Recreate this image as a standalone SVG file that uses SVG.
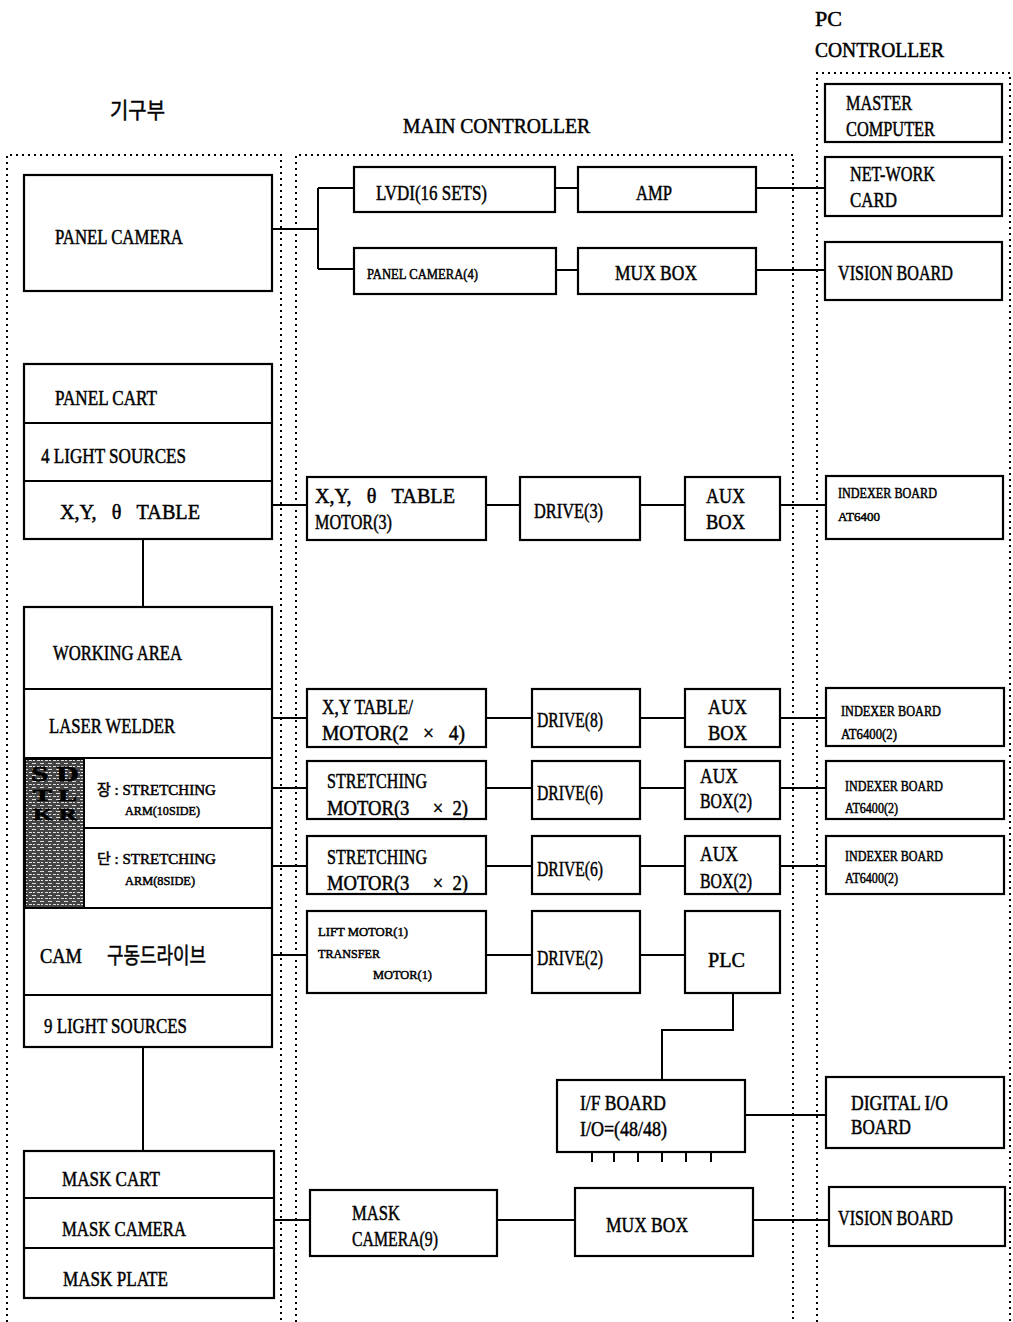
<svg xmlns="http://www.w3.org/2000/svg" width="1013" height="1322" viewBox="0 0 1013 1322">
<style>
.bx{fill:#fff;stroke:#000;stroke-width:2.2}
.grp{fill:none;stroke:#000;stroke-width:2;stroke-dasharray:2 4}
.ln{fill:none;stroke:#000;stroke-width:2}
text{font-family:"Liberation Serif","Noto Sans CJK KR",serif;fill:#000;stroke:#000;stroke-width:0.5}
.t20{font-size:22px}
.t15{font-size:15px}
.t13{font-size:13px}
.kr{font-family:"Noto Sans CJK KR",sans-serif}
</style>
<defs>
<pattern id="hatch" width="8" height="6" patternUnits="userSpaceOnUse">
<rect width="8" height="6" fill="#444"/>
<path d="M0 1.5h4M5 4.5h3M1 4.5h2" stroke="#ddd" stroke-width="1"/>
</pattern>
</defs>
<rect width="1013" height="1322" fill="#fff"/>

<g id="groups">
<path class="grp" d="M7 1322V155H281V1322"/>
<path class="grp" d="M296 1322V155H793V1322"/>
<path class="grp" d="M817 1322V73H1010V1322"/>
</g>

<g id="headers">
<text class="t20 kr" x="110" y="118" textLength="55" lengthAdjust="spacingAndGlyphs">기구부</text>
<text class="t20" x="403" y="133" textLength="187" lengthAdjust="spacingAndGlyphs">MAIN CONTROLLER</text>
<text class="t20" x="815" y="26" textLength="27" lengthAdjust="spacingAndGlyphs">PC</text>
<text class="t20" x="815" y="57" textLength="129" lengthAdjust="spacingAndGlyphs">CONTROLLER</text>
</g>

<g id="connectors">
<path class="ln" d="M272 229H318M318 188V269M318 188H354M318 269H354"/>
<path class="ln" d="M555 188H578M556 270H578M756 188H825M756 270H825"/>
<path class="ln" d="M143 539V607M143 1047V1151"/>
<path class="ln" d="M272 505H307M486 505H520M640 505H685M780 505H826"/>
<path class="ln" d="M272 718H307M486 718H532M640 718H685M780 718H826"/>
<path class="ln" d="M272 788H307M486 788H532M640 788H685M780 788H826"/>
<path class="ln" d="M272 866H307M486 866H532M640 866H685M780 866H826"/>
<path class="ln" d="M272 955H307M486 955H532M640 955H685"/>
<path class="ln" d="M733 993V1030H662V1080"/>
<path class="ln" d="M745 1115H826"/>
<path class="ln" d="M592 1152V1162M614 1152V1162M638 1152V1162M662 1152V1162M686 1152V1162M711 1152V1162"/>
<path class="ln" d="M274 1220H310M497 1220H575M753 1220H829"/>
</g>

<g id="panel-camera">
<rect class="bx" x="24" y="175" width="248" height="116"/>
<text class="t20" x="55" y="244" textLength="128" lengthAdjust="spacingAndGlyphs">PANEL CAMERA</text>
</g>
<g id="panel-stack">
<rect class="bx" x="24" y="364" width="248" height="175"/>
<path class="ln" d="M24 423H272M24 481H272"/>
<text class="t20" x="55" y="405" textLength="102" lengthAdjust="spacingAndGlyphs">PANEL CART</text>
<text class="t20" x="41" y="463" textLength="145" lengthAdjust="spacingAndGlyphs">4 LIGHT SOURCES</text>
<text class="t20" xml:space="preserve" x="60" y="519" textLength="140" lengthAdjust="spacingAndGlyphs">X,Y,   θ   TABLE</text>
</g>
<g id="working-stack">
<rect class="bx" x="24" y="607" width="248" height="440"/>
<path class="ln" d="M24 689H272M24 758H272M84 828H272M24 908H272M24 995H272"/>
<rect x="25" y="759" width="59" height="149" fill="url(#hatch)" stroke="#000" stroke-width="2"/>
<text x="31" y="781" style="font-size:20px;font-weight:bold" textLength="48" lengthAdjust="spacingAndGlyphs">S D</text>
<text x="33" y="801" style="font-size:16px;font-weight:bold" textLength="44" lengthAdjust="spacingAndGlyphs">T L</text>
<text x="33" y="820" style="font-size:16px;font-weight:bold" textLength="44" lengthAdjust="spacingAndGlyphs">K R</text>
<text class="t20" x="53" y="660" textLength="129" lengthAdjust="spacingAndGlyphs">WORKING AREA</text>
<text class="t20" x="49" y="733" textLength="126" lengthAdjust="spacingAndGlyphs">LASER WELDER</text>
<text class="t15" x="97" y="795"><tspan class="kr">장</tspan> : <tspan>STRETCHING</tspan></text>
<text class="t13" x="125" y="815" textLength="75" lengthAdjust="spacingAndGlyphs">ARM(10SIDE)</text>
<text class="t15" x="97" y="864"><tspan class="kr">단</tspan> : <tspan>STRETCHING</tspan></text>
<text class="t13" x="125" y="885" textLength="70" lengthAdjust="spacingAndGlyphs">ARM(8SIDE)</text>
<text class="t20" x="40" y="963" textLength="42" lengthAdjust="spacingAndGlyphs">CAM</text>
<text class="t20 kr" x="107" y="963" textLength="99" lengthAdjust="spacingAndGlyphs">구동드라이브</text>
<text class="t20" x="44" y="1033" textLength="143" lengthAdjust="spacingAndGlyphs">9 LIGHT SOURCES</text>
</g>
<g id="mask-stack">
<rect class="bx" x="24" y="1151" width="250" height="147"/>
<path class="ln" d="M24 1198H274M24 1248H274"/>
<text class="t20" x="62" y="1186" textLength="98" lengthAdjust="spacingAndGlyphs">MASK CART</text>
<text class="t20" x="62" y="1236" textLength="124" lengthAdjust="spacingAndGlyphs">MASK CAMERA</text>
<text class="t20" x="63" y="1286" textLength="105" lengthAdjust="spacingAndGlyphs">MASK PLATE</text>
</g>

<g id="lvdi"><rect class="bx" x="354" y="167" width="201" height="45"/>
<text class="t20" x="376" y="200" textLength="111" lengthAdjust="spacingAndGlyphs">LVDI(16 SETS)</text></g>
<g id="panel-camera4"><rect class="bx" x="354" y="248" width="202" height="46"/>
<text class="t15" x="367" y="279" textLength="111" lengthAdjust="spacingAndGlyphs">PANEL CAMERA(4)</text></g>
<g id="amp"><rect class="bx" x="578" y="167" width="178" height="45"/>
<text class="t20" x="636" y="200" textLength="36" lengthAdjust="spacingAndGlyphs">AMP</text></g>
<g id="mux1"><rect class="bx" x="578" y="248" width="178" height="46"/>
<text class="t20" x="615" y="280" textLength="82" lengthAdjust="spacingAndGlyphs">MUX BOX</text></g>

<g id="xyt-motor"><rect class="bx" x="307" y="477" width="179" height="63"/>
<text class="t20" xml:space="preserve" x="315" y="503" textLength="140" lengthAdjust="spacingAndGlyphs">X,Y,   θ   TABLE</text>
<text class="t20" x="315" y="529" textLength="77" lengthAdjust="spacingAndGlyphs">MOTOR(3)</text></g>
<g id="drive3"><rect class="bx" x="520" y="477" width="120" height="63"/>
<text class="t20" x="534" y="518" textLength="69" lengthAdjust="spacingAndGlyphs">DRIVE(3)</text></g>
<g id="aux1"><rect class="bx" x="685" y="477" width="95" height="63"/>
<text class="t20" x="706" y="503" textLength="39" lengthAdjust="spacingAndGlyphs">AUX</text>
<text class="t20" x="706" y="529" textLength="39" lengthAdjust="spacingAndGlyphs">BOX</text></g>

<g id="xy-motor"><rect class="bx" x="307" y="689" width="179" height="58"/>
<text class="t20" x="322" y="714" textLength="91" lengthAdjust="spacingAndGlyphs">X,Y TABLE/</text>
<text class="t20" xml:space="preserve" x="322" y="740" textLength="143" lengthAdjust="spacingAndGlyphs">MOTOR(2   ×   4)</text></g>
<g id="drive8"><rect class="bx" x="532" y="689" width="108" height="58"/>
<text class="t20" x="537" y="727" textLength="66" lengthAdjust="spacingAndGlyphs">DRIVE(8)</text></g>
<g id="aux2"><rect class="bx" x="685" y="689" width="95" height="58"/>
<text class="t20" x="708" y="714" textLength="39" lengthAdjust="spacingAndGlyphs">AUX</text>
<text class="t20" x="708" y="740" textLength="39" lengthAdjust="spacingAndGlyphs">BOX</text></g>

<g id="stretch1"><rect class="bx" x="307" y="761" width="179" height="58"/>
<text class="t20" x="327" y="788" textLength="100" lengthAdjust="spacingAndGlyphs">STRETCHING</text>
<text class="t20" xml:space="preserve" x="327" y="815" textLength="141" lengthAdjust="spacingAndGlyphs">MOTOR(3     ×  2)</text></g>
<g id="drive6a"><rect class="bx" x="532" y="761" width="108" height="58"/>
<text class="t20" x="537" y="800" textLength="66" lengthAdjust="spacingAndGlyphs">DRIVE(6)</text></g>
<g id="aux3"><rect class="bx" x="685" y="761" width="95" height="58"/>
<text class="t20" x="700" y="783" textLength="38" lengthAdjust="spacingAndGlyphs">AUX</text>
<text class="t20" x="700" y="808" textLength="52" lengthAdjust="spacingAndGlyphs">BOX(2)</text></g>

<g id="stretch2"><rect class="bx" x="307" y="836" width="179" height="58"/>
<text class="t20" x="327" y="864" textLength="100" lengthAdjust="spacingAndGlyphs">STRETCHING</text>
<text class="t20" xml:space="preserve" x="327" y="890" textLength="141" lengthAdjust="spacingAndGlyphs">MOTOR(3     ×  2)</text></g>
<g id="drive6b"><rect class="bx" x="532" y="836" width="108" height="58"/>
<text class="t20" x="537" y="876" textLength="66" lengthAdjust="spacingAndGlyphs">DRIVE(6)</text></g>
<g id="aux4"><rect class="bx" x="685" y="836" width="95" height="58"/>
<text class="t20" x="700" y="861" textLength="38" lengthAdjust="spacingAndGlyphs">AUX</text>
<text class="t20" x="700" y="888" textLength="52" lengthAdjust="spacingAndGlyphs">BOX(2)</text></g>

<g id="lift-motor"><rect class="bx" x="307" y="911" width="179" height="82"/>
<text class="t13" x="318" y="936" textLength="90" lengthAdjust="spacingAndGlyphs">LIFT MOTOR(1)</text>
<text class="t13" x="318" y="958" textLength="62" lengthAdjust="spacingAndGlyphs">TRANSFER</text>
<text class="t13" x="373" y="979" textLength="59" lengthAdjust="spacingAndGlyphs">MOTOR(1)</text></g>
<g id="drive2"><rect class="bx" x="532" y="911" width="108" height="82"/>
<text class="t20" x="537" y="965" textLength="66" lengthAdjust="spacingAndGlyphs">DRIVE(2)</text></g>
<g id="plc"><rect class="bx" x="685" y="911" width="95" height="82"/>
<text class="t20" x="708" y="967" textLength="37" lengthAdjust="spacingAndGlyphs">PLC</text></g>

<g id="if-board"><rect class="bx" x="557" y="1080" width="188" height="72"/>
<text class="t20" x="580" y="1110" textLength="86" lengthAdjust="spacingAndGlyphs">I/F BOARD</text>
<text class="t20" x="580" y="1136" textLength="87" lengthAdjust="spacingAndGlyphs">I/O=(48/48)</text></g>

<g id="mask-camera9"><rect class="bx" x="310" y="1190" width="187" height="66"/>
<text class="t20" x="352" y="1220" textLength="48" lengthAdjust="spacingAndGlyphs">MASK</text>
<text class="t20" x="352" y="1246" textLength="86" lengthAdjust="spacingAndGlyphs">CAMERA(9)</text></g>
<g id="mux2"><rect class="bx" x="575" y="1188" width="178" height="68"/>
<text class="t20" x="606" y="1232" textLength="82" lengthAdjust="spacingAndGlyphs">MUX BOX</text></g>

<g id="master"><rect class="bx" x="825" y="84" width="177" height="58"/>
<text class="t20" x="846" y="110" textLength="66" lengthAdjust="spacingAndGlyphs">MASTER</text>
<text class="t20" x="846" y="136" textLength="89" lengthAdjust="spacingAndGlyphs">COMPUTER</text></g>
<g id="netcard"><rect class="bx" x="825" y="157" width="177" height="59"/>
<text class="t20" x="850" y="181" textLength="85" lengthAdjust="spacingAndGlyphs">NET-WORK</text>
<text class="t20" x="850" y="207" textLength="47" lengthAdjust="spacingAndGlyphs">CARD</text></g>
<g id="vision1"><rect class="bx" x="825" y="242" width="177" height="58"/>
<text class="t20" x="838" y="280" textLength="115" lengthAdjust="spacingAndGlyphs">VISION BOARD</text></g>
<g id="indexer1"><rect class="bx" x="826" y="476" width="177" height="63"/>
<text class="t15" x="838" y="498" textLength="99" lengthAdjust="spacingAndGlyphs">INDEXER BOARD</text>
<text class="t13" x="838" y="521" textLength="42" lengthAdjust="spacingAndGlyphs">AT6400</text></g>
<g id="indexer2"><rect class="bx" x="826" y="688" width="178" height="58"/>
<text class="t15" x="841" y="716" textLength="100" lengthAdjust="spacingAndGlyphs">INDEXER BOARD</text>
<text class="t15" x="841" y="739" textLength="56" lengthAdjust="spacingAndGlyphs">AT6400(2)</text></g>
<g id="indexer3"><rect class="bx" x="826" y="761" width="178" height="58"/>
<text class="t15" x="845" y="791" textLength="98" lengthAdjust="spacingAndGlyphs">INDEXER BOARD</text>
<text class="t15" x="845" y="813" textLength="53" lengthAdjust="spacingAndGlyphs">AT6400(2)</text></g>
<g id="indexer4"><rect class="bx" x="826" y="836" width="178" height="58"/>
<text class="t15" x="845" y="861" textLength="98" lengthAdjust="spacingAndGlyphs">INDEXER BOARD</text>
<text class="t15" x="845" y="883" textLength="53" lengthAdjust="spacingAndGlyphs">AT6400(2)</text></g>
<g id="digital-io"><rect class="bx" x="826" y="1077" width="178" height="71"/>
<text class="t20" x="851" y="1110" textLength="97" lengthAdjust="spacingAndGlyphs">DIGITAL I/O</text>
<text class="t20" x="851" y="1134" textLength="60" lengthAdjust="spacingAndGlyphs">BOARD</text></g>
<g id="vision2"><rect class="bx" x="829" y="1187" width="176" height="59"/>
<text class="t20" x="838" y="1225" textLength="115" lengthAdjust="spacingAndGlyphs">VISION BOARD</text></g>
</svg>
